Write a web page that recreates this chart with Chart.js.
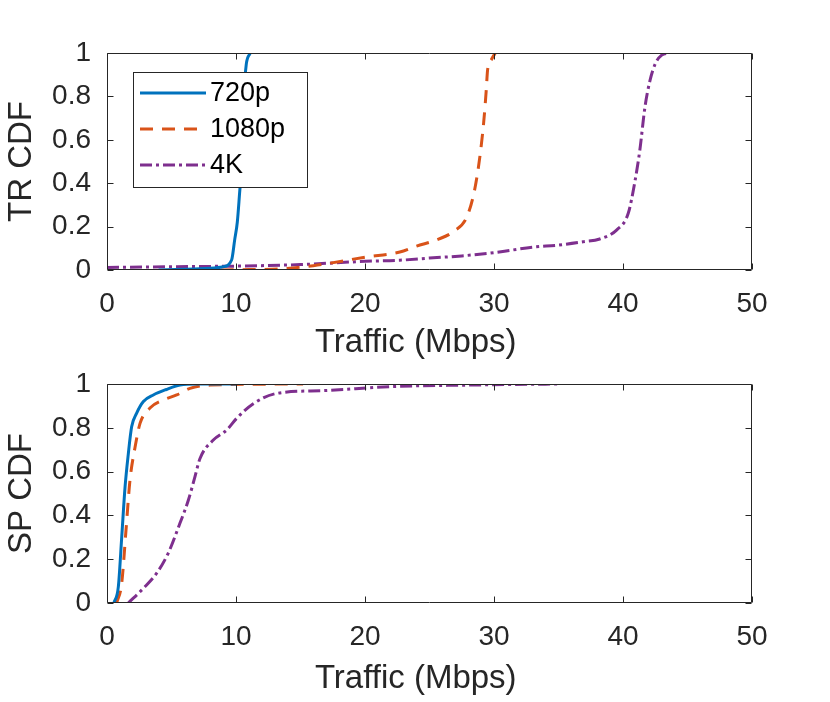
<!DOCTYPE html>
<html>
<head>
<meta charset="utf-8">
<script src="https://cdn.jsdelivr.net/npm/chart.js@4.4.1/dist/chart.umd.min.js"></script>
<style>
html, body { margin: 0; padding: 0; background: #fff; }
#wrap { position: relative; width: 830px; height: 702px; }
canvas { position: absolute; left: 0; }
#trChart { top: 0; }
#spChart { top: 366px; }
</style>
</head>
<body>
<div id="wrap">
  <canvas id="trChart" width="830" height="366"></canvas>
  <canvas id="spChart" width="830" height="336"></canvas>
</div>
<script>
// series names
const seriesNames = ["720p", "1080p", "4K"];

// x ticks / y ticks
const xTicks = [0, 10, 20, 30, 40, 50];
const yTicks = [0, 0.2, 0.4, 0.6, 0.8, 1];

// TR CDF (top)
const tr720X = [4, 6, 8, 9, 9.66, 9.9, 10.1, 10.3, 10.45, 10.55, 10.62, 10.7, 10.8, 11.1];
const tr720Y = [0, 0.003, 0.008, 0.015, 0.046, 0.14, 0.22, 0.37, 0.48, 0.6, 0.75, 0.88, 0.95, 1.0];
const tr1080X = [5.4, 8, 11, 13.4, 16, 20.1, 22.7, 24, 25.6, 26.8, 27.9, 28.5, 28.9, 29.2, 29.4, 29.5, 29.8, 30.1];
const tr1080Y = [0, 0, 0.002, 0.005, 0.02, 0.06, 0.083, 0.11, 0.14, 0.175, 0.245, 0.37, 0.52, 0.68, 0.83, 0.92, 0.97, 1.0];
const tr4KX = [0, 5, 10, 15, 20, 22.7, 25, 27.5, 30, 33, 35, 36.9, 38.2, 39.5, 40.4, 40.9, 41.3, 41.7, 42.1, 42.5, 43, 43.6];
const tr4KY = [0.012, 0.015, 0.018, 0.025, 0.04, 0.045, 0.055, 0.065, 0.08, 0.105, 0.115, 0.13, 0.143, 0.184, 0.26, 0.4, 0.55, 0.75, 0.875, 0.95, 0.99, 1.0];

// SP CDF (bottom)
const sp720X = [0.54, 0.88, 1.14, 1.4, 1.65, 1.91, 2.3, 2.82, 3.59, 4.6, 5.66, 7, 10.05];
const sp720Y = [0, 0.075, 0.3, 0.53, 0.68, 0.805, 0.867, 0.92, 0.95, 0.975, 0.995, 1, 1];
const sp1080X = [0.75, 1.14, 1.47, 1.78, 2.17, 2.56, 3.33, 4.37, 5.4, 6.43, 8, 15.2];
const sp1080Y = [0, 0.09, 0.33, 0.56, 0.71, 0.82, 0.89, 0.927, 0.95, 0.98, 0.995, 1];
const sp4KX = [1.65, 2.82, 3.85, 4.75, 5.66, 6.31, 6.82, 7.21, 8.24, 9.28, 10.05, 11.34, 13.15, 16.8, 21.9, 28, 35];
const sp4KY = [0, 0.067, 0.136, 0.228, 0.365, 0.47, 0.577, 0.66, 0.744, 0.79, 0.843, 0.91, 0.957, 0.97, 0.988, 0.995, 1];

const colors = ["#0072BD", "#D95319", "#7E2F8E"];
const dashes = [[], [13, 9], [12, 4, 3, 4]];
const axisColor = "#262626";
const fontFamily = "'Liberation Sans', Arial, Helvetica, sans-serif";

function pts(xs, ys) {
    return xs.map((x, i) => ({ x: x, y: ys[i] }));
}

function makeSets(list) {
    return list.map((d, i) => ({
        label: seriesNames[i],
        data: pts(d[0], d[1]),
        borderColor: colors[i],
        borderWidth: 3,
        borderDash: dashes[i],
        pointRadius: 0,
        fill: false,
        cubicInterpolationMode: "monotone"
    }));
}

// MATLAB style box with inward ticks
const boxPlugin = {
    id: "matlabBox",
    afterDatasetsDraw(chart) {
        const { ctx, chartArea: a, scales } = chart;
        const x = scales.x, y = scales.y;
        const l = Math.round(a.left) + 0.5, r = Math.round(a.right) - 0.5;
        const t = Math.round(a.top) + 0.5, b = Math.round(a.bottom) - 0.5;
        ctx.save();
        ctx.strokeStyle = axisColor;
        ctx.lineWidth = 1;
        ctx.beginPath();
        ctx.moveTo(l, t); ctx.lineTo(r, t); ctx.lineTo(r, b); ctx.lineTo(l, b); ctx.closePath();
        x.ticks.forEach(tk => {
            const px = Math.round(x.getPixelForValue(tk.value)) + 0.5;
            ctx.moveTo(px, b); ctx.lineTo(px, b - 6);
            ctx.moveTo(px, t); ctx.lineTo(px, t + 6);
        });
        y.ticks.forEach(tk => {
            const py = Math.round(y.getPixelForValue(tk.value)) + 0.5;
            ctx.moveTo(l, py); ctx.lineTo(l + 6, py);
            ctx.moveTo(r, py); ctx.lineTo(r - 6, py);
        });
        ctx.stroke();
        ctx.restore();
    }
};

// legend box inside the plot (top chart)
const legendPlugin = {
    id: "insideLegend",
    afterDraw(chart) {
        if (!chart.options.plugins.insideLegend) return;
        const ctx = chart.ctx;
        const a = chart.chartArea;
        const bx = a.left + 26, by = a.top + 19, bw = 174, bh = 115;
        ctx.save();
        ctx.fillStyle = "#fff";
        ctx.fillRect(bx, by, bw, bh);
        ctx.strokeStyle = axisColor;
        ctx.lineWidth = 1;
        ctx.strokeRect(bx + 0.5, by + 0.5, bw, bh);
        ctx.font = "27px " + fontFamily;
        ctx.textBaseline = "middle";
        ctx.fillStyle = "#000";
        chart.data.datasets.forEach((ds, i) => {
            const ry = by + 21 + i * 36;
            ctx.beginPath();
            ctx.strokeStyle = ds.borderColor;
            ctx.lineWidth = 3;
            ctx.setLineDash(ds.borderDash);
            ctx.moveTo(bx + 7, ry);
            ctx.lineTo(bx + 73, ry);
            ctx.stroke();
            ctx.setLineDash([]);
            ctx.fillText(ds.label, bx + 77, ry + 1);
        });
        ctx.restore();
    }
};

function makeChart(id, sets, yTitle, padTop, xHeight, showLegend) {
    const ctx = document.getElementById(id).getContext("2d");
    return new Chart(ctx, {
        type: "line",
        data: { datasets: sets },
        options: {
            responsive: false,
            animation: false,
            layout: { padding: { top: padTop, right: 78, bottom: 0, left: 0 } },
            plugins: {
                legend: { display: false },
                tooltip: { enabled: false },
                insideLegend: showLegend
            },
            scales: {
                x: {
                    type: "linear",
                    min: 0, max: 50,
                    afterBuildTicks: s => { s.ticks = xTicks.map(v => ({ value: v })); },
                    afterFit: s => { s.height = xHeight; },
                    grid: { display: false, drawTicks: false, tickLength: 0 },
                    border: { display: false },
                    ticks: {
                        color: axisColor, padding: 17,
                        font: { family: fontFamily, size: 28 },
                        maxRotation: 0
                    },
                    title: {
                        display: true, text: "Traffic (Mbps)   ", color: axisColor,
                        font: { family: fontFamily, size: 33 },
                        padding: { top: 4, bottom: 3 }
                    }
                },
                y: {
                    type: "linear",
                    min: 0, max: 1,
                    afterBuildTicks: s => { s.ticks = yTicks.map(v => ({ value: v })); },
                    afterFit: s => { s.width = 107; s.paddingTop = 0; s.paddingBottom = 0; },
                    grid: { display: false, drawTicks: false, tickLength: 0 },
                    border: { display: false },
                    ticks: {
                        color: axisColor, padding: 16,
                        font: { family: fontFamily, size: 28 },
                        callback: v => String(+v.toFixed(1))
                    },
                    title: {
                        display: true, text: yTitle, color: axisColor,
                        font: { family: fontFamily, size: 33 },
                        padding: { top: 2, bottom: 4 }
                    }
                }
            }
        },
        plugins: [boxPlugin, legendPlugin]
    });
}

makeChart("trChart", makeSets([[tr720X, tr720Y], [tr1080X, tr1080Y], [tr4KX, tr4KY]]),
    "TR CDF", 53, 96, true);
makeChart("spChart", makeSets([[sp720X, sp720Y], [sp1080X, sp1080Y], [sp4KX, sp4KY]]),
    "SP CDF", 18, 99, false);
</script>
</body>
</html>
